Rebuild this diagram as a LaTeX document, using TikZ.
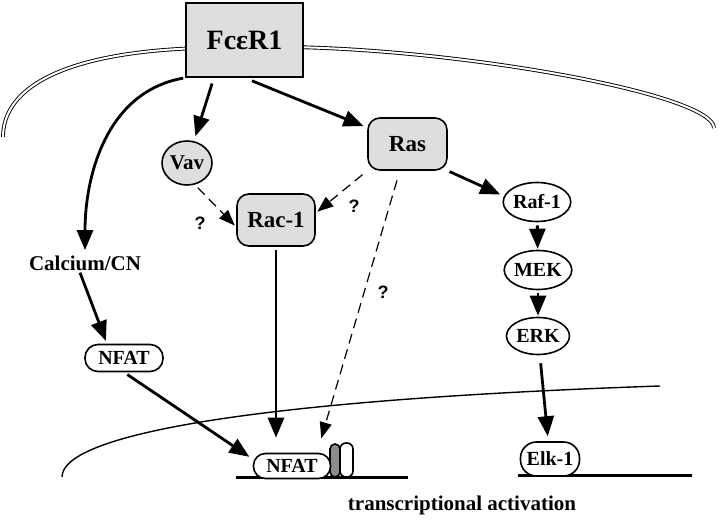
\documentclass[tikz,border=0pt]{standalone}
\usepackage{fontspec}
\setmainfont{Liberation Serif}
\newfontfamily\qmarkfont{Liberation Sans}
\usetikzlibrary{arrows.meta,shapes.geometric}

\begin{document}
\begin{tikzpicture}[x=0.5pt, y=-0.5pt,
  every node/.style={align=center, inner sep=0pt, font=\bfseries\fontsize{10.5}{12}\selectfont},
  receptor/.style={draw, line width=0.8pt, fill=black!13, minimum width=58.5pt, minimum height=37pt, font=\bfseries\fontsize{14}{16}\selectfont},
  shadedbox/.style={draw, line width=0.8pt, fill=black!13, rounded corners=6pt, minimum width=39.5pt, minimum height=26pt, font=\bfseries\fontsize{11.5}{13}\selectfont},
  shadedoval/.style={draw, ellipse, line width=0.8pt, fill=black!13, minimum width=25pt, minimum height=22pt},
  oval/.style={draw, ellipse, line width=0.8pt, fill=white, minimum width=33pt, minimum height=19.5pt, font=\bfseries\fontsize{10}{12}\selectfont},
  pill/.style={draw, line width=0.8pt, fill=white, rounded corners=6.5pt, minimum width=39pt, minimum height=13.5pt, font=\bfseries\fontsize{10}{12}\selectfont},
  flow/.style={-{Triangle[length=10pt,width=8pt]}, line width=1.4pt},
  guess/.style={-{Triangle[length=8pt,width=6pt]}, line width=0.6pt, dash pattern=on 5pt off 3pt},
  qmark/.style={font=\qmarkfont\bfseries\fontsize{9}{10}\selectfont},
  membrane/.style={line width=0.45pt, double, double distance=1pt}]
\useasboundingbox (0,0) rectangle (720,523);

% Membranes and DNA
\draw[membrane] (3,137) .. controls (3,85) and (70,52) .. (200,48);
\draw[membrane] (290,47) .. controls (470,50) and (714,95) .. (714,128);
\draw[line width=0.7pt] (62,477) .. controls (62,435) and (250,400) .. (660,386);
\draw[line width=1.5pt] (236,478) -- (408,478);
\draw[line width=1.5pt] (518,476) -- (692,476);

% Position the nodes
\node[receptor] (fcReceptor) at (244.5,40) {FcεR1};
\node[shadedoval] (vav) at (187,163) {Vav};
\node[shadedbox] (ras) at (407.5,144) {Ras};
\node[shadedbox, minimum width=39pt] (racOne) at (276,220) {Rac-1};
\node (calcium) at (85,263) {Calcium/CN};
\node[pill] (nfatCyto) at (124,358) {NFAT};
\node[oval] (rafOne) at (537,202) {Raf-1};
\node[oval, minimum width=31pt] (mek) at (538,270) {MEK};
\node[oval, minimum width=31.5pt, minimum height=18.5pt] (erk) at (538,336) {ERK};
\node[pill, minimum width=5pt, minimum height=16.5pt, rounded corners=2.5pt, fill=black!45] (coactA) at (335,460.5) {};
\node[pill, minimum width=6.5pt, minimum height=17pt, rounded corners=3pt] (coactB) at (346.5,460) {};
\node[pill, minimum width=38.5pt, minimum height=12.5pt, rounded corners=6pt] (nfatNuc) at (292,466) {NFAT};
\node[pill, minimum width=29.5pt, minimum height=17pt, rounded corners=8pt] (elkOne) at (550,459) {Elk-1};
\node[qmark] (qVav) at (200,223) {?};
\node[qmark] (qRas) at (354,206) {?};
\node[qmark] (qNuc) at (383,292) {?};
\node (transcription) at (462,505) {transcriptional activation};

% Draw the arrows between the nodes
\draw[flow, shorten <=3pt, shorten >=2.5pt] (fcReceptor.231) -- (vav);
\draw[flow, shorten <=4pt, shorten >=2pt] (fcReceptor.south) -- (ras);
\draw[flow, shorten <=1pt, shorten >=2.5pt] (fcReceptor.south west) to[out=190, in=90] (calcium);
\draw[flow, shorten <=1pt, shorten >=1.5pt] (calcium.234) -- (nfatCyto.140);
\draw[flow, shorten <=2pt, shorten >=2pt] (nfatCyto.south) -- (nfatNuc.170);
\draw[flow, shorten <=1.5pt, shorten >=7.5pt] (racOne) -- (racOne |- nfatNuc.north);
\draw[flow, shorten <=1pt, shorten >=2pt] (ras.south east) -- (rafOne.170);
\draw[flow, shorten <=1.5pt, shorten >=0.5pt] (rafOne) -- (mek);
\draw[flow, shorten <=1.5pt, shorten >=0.5pt] (mek) -- (erk);
\draw[flow, shorten <=4pt, shorten >=2.5pt] (erk) -- (elkOne);
\draw[guess, shorten <=2pt, shorten >=1pt] (vav.-70) -- (racOne.190);
\draw[guess, shorten <=3pt, shorten >=1pt] (ras.south west) -- (racOne.10);
\draw[guess, shorten <=5pt, shorten >=7.5pt] (ras.254) -- (nfatNuc.28);

\end{tikzpicture}
\end{document}
